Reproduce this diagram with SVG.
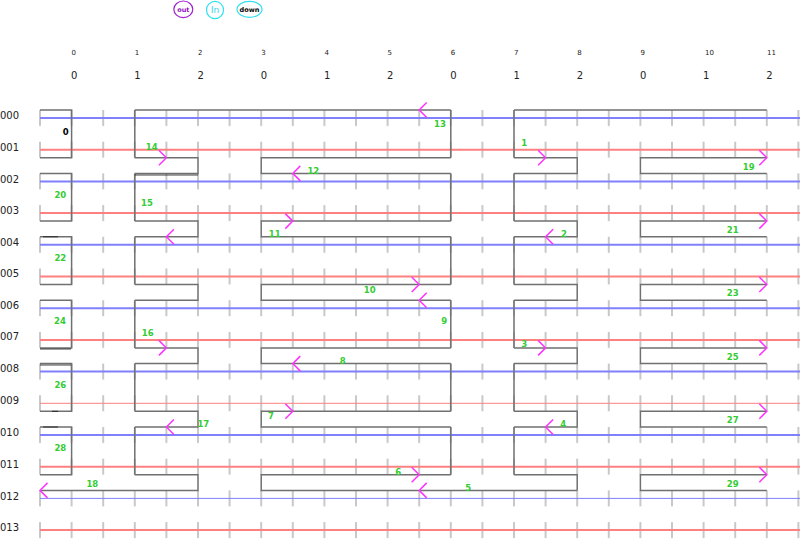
<svg xmlns="http://www.w3.org/2000/svg" width="800" height="539" viewBox="0 0 800 539">
<style>
.rl{font-family:"DejaVu Sans",sans-serif;font-size:10px;fill:#222}
.c1{font-family:"DejaVu Sans",sans-serif;font-size:7px;fill:#222}
.c2{font-family:"DejaVu Sans",sans-serif;font-size:10px;fill:#222}
.g{font-family:"DejaVu Sans",sans-serif;font-size:8.5px;font-weight:bold;fill:#33cc33;text-anchor:middle}
.blue{stroke:#8080ff;stroke-width:2;fill:none}
.red{stroke:#ff8080;stroke-width:2;fill:none}
.thin{stroke-width:1}
.box{stroke:#707070;stroke-width:1.5;fill:none}
.arr{stroke:#ff33ff;stroke-width:1.5;fill:none}
</style>
<defs>
<pattern id="tick" patternUnits="userSpaceOnUse" x="39" y="110" width="31.6" height="31.7">
<rect x="0" y="0" width="2" height="16" fill="#c8c8c8"/>
</pattern>
<path id="lt" d="M7.5,-7.5 L0,0 L7.5,7.5"/>
<path id="gt" d="M-7.5,-7.5 L0,0 L-7.5,7.5"/>
</defs>
<rect width="800" height="539" fill="#ffffff"/>
<g id="legend">
<g id="legend-out"><ellipse cx="183.3" cy="9.3" rx="9.5" ry="8.3" fill="none" stroke="#a020d0" stroke-width="1.2"/><text x="183.3" y="11.6" font-family="DejaVu Sans,sans-serif" font-size="6.5" font-weight="bold" fill="#9010c0" text-anchor="middle">out</text></g>
<g id="legend-in"><ellipse cx="215" cy="10" rx="8.5" ry="8.7" fill="none" stroke="#30e0f0" stroke-width="1.2"/><text x="215" y="13.3" font-family="DejaVu Sans,sans-serif" font-size="9" fill="#30d8f0" text-anchor="middle">In</text></g>
<g id="legend-down"><ellipse cx="249.5" cy="9.3" rx="12.5" ry="8" fill="none" stroke="#30e0f0" stroke-width="1.2"/><text x="249.5" y="11.6" font-family="DejaVu Sans,sans-serif" font-size="6.5" font-weight="bold" fill="#000" text-anchor="middle">down</text></g>
</g>
<g id="col-labels">
<text class="c1" x="71.6" y="54.5">0</text><text class="c1" x="134.8" y="54.5">1</text><text class="c1" x="198" y="54.5">2</text><text class="c1" x="261.2" y="54.5">3</text><text class="c1" x="324.4" y="54.5">4</text><text class="c1" x="387.6" y="54.5">5</text><text class="c1" x="450.8" y="54.5">6</text><text class="c1" x="514" y="54.5">7</text><text class="c1" x="577.2" y="54.5">8</text><text class="c1" x="640.4" y="54.5">9</text><text class="c1" x="705" y="54.5">10</text><text class="c1" x="767" y="54.5">11</text>
<text class="c2" x="71" y="78.5">0</text><text class="c2" x="134.3" y="78.5">1</text><text class="c2" x="197.5" y="78.5">2</text><text class="c2" x="260.7" y="78.5">0</text><text class="c2" x="323.9" y="78.5">1</text><text class="c2" x="387.1" y="78.5">2</text><text class="c2" x="450.3" y="78.5">0</text><text class="c2" x="513.5" y="78.5">1</text><text class="c2" x="576.7" y="78.5">2</text><text class="c2" x="639.9" y="78.5">0</text><text class="c2" x="703.1" y="78.5">1</text><text class="c2" x="766.3" y="78.5">2</text>
</g>
<g id="row-labels">
<text class="rl" x="0" y="119">000</text><text class="rl" x="0" y="150.5">001</text><text class="rl" x="0" y="182.5">002</text><text class="rl" x="0" y="214">003</text><text class="rl" x="0" y="245.5">004</text><text class="rl" x="0" y="277">005</text><text class="rl" x="0" y="308.5">006</text><text class="rl" x="0" y="340">007</text><text class="rl" x="0" y="372">008</text><text class="rl" x="0" y="404">009</text><text class="rl" x="0" y="436">010</text><text class="rl" x="0" y="467.5">011</text><text class="rl" x="0" y="499.5">012</text><text class="rl" x="0" y="531">013</text>
</g>
<g id="ticks"><rect x="39" y="110" width="761" height="429" fill="url(#tick)"/></g>
<g id="rows">
<path class="blue" d="M40,118H800"/>
<path class="red" d="M40,149.7H800"/>
<path class="blue" d="M40,181.4H800"/>
<path class="red" d="M40,213.1H800"/>
<path class="blue" d="M40,244.8H800"/>
<path class="red" d="M40,276.5H800"/>
<path class="blue" d="M40,308.2H800"/>
<path class="red" d="M40,339.9H800"/>
<path class="blue" d="M40,371.6H800"/>
<path class="red thin" d="M40,403.3H800"/>
<path class="blue" d="M40,435H800"/>
<path class="red" d="M40,466.7H800"/>
<path class="blue thin" d="M40,498.4H800"/>
<path class="red" d="M40,530.1H800"/>
</g>
<g id="structure">
<path class="box" d="M40,110H71.6V157.7H40 M40,173.4H71.6V221.1H40 M40,236.8H71.6V284.5H40 M40,300.2H71.6V347.9H40 M40,363.6H71.6V411.3H40 M40,427H71.6V474.7H40
M134.8,110H450.8 M514,110H766.8
M134.8,110V157.7 M450.8,110V157.7 M514,110V157.7
M134.8,173.4V221.1 M450.8,173.4V221.1 M514,173.4V221.1
M134.8,236.8V284.5 M450.8,236.8V284.5 M514,236.8V284.5
M134.8,300.2V347.9 M450.8,300.2V347.9 M514,300.2V347.9
M134.8,363.6V411.3 M450.8,363.6V411.3 M514,363.6V411.3
M134.8,427V474.7 M450.8,427V474.7 M514,427V474.7
M134.8,157.7H198V173.4H134.8 M450.8,157.7H261.2V173.4H450.8 M514,157.7H577.2V173.4H514 M766.8,157.7H640.4V173.4H766.8
M134.8,221.1H198V236.8H134.8 M450.8,221.1H261.2V236.8H450.8 M514,221.1H577.2V236.8H514 M766.8,221.1H640.4V236.8H766.8
M134.8,284.5H198V300.2H134.8 M450.8,284.5H261.2V300.2H450.8 M514,284.5H577.2V300.2H514 M766.8,284.5H640.4V300.2H766.8
M134.8,347.9H198V363.6H134.8 M450.8,347.9H261.2V363.6H450.8 M514,347.9H577.2V363.6H514 M766.8,347.9H640.4V363.6H766.8
M134.8,411.3H198V427H134.8 M450.8,411.3H261.2V427H450.8 M514,411.3H577.2V427H514 M766.8,411.3H640.4V427H766.8
M134.8,474.7H198V490.4H40 M450.8,474.7H261.2V490.4H577.2 M514,474.7H577.2V490.4 M766.8,474.7H640.4V490.4H766.8"/>
<path d="M134.8,175H198 M43,236.8H58 M40,349H71 M40,365H71 M52,411.3H58 M43,427H58" stroke="#111" stroke-width="0.8" fill="none"/>
</g>
<g id="connectors" class="arr">
<use href="#lt" x="419.2" y="110"/>
<use href="#gt" x="166.4" y="157.7"/>
<use href="#gt" x="545.6" y="157.7"/>
<use href="#lt" x="292.8" y="173.4"/>
<use href="#gt" x="766.8" y="157.7"/>
<use href="#gt" x="292.8" y="221.1"/>
<use href="#lt" x="166.4" y="236.8"/>
<use href="#lt" x="545.6" y="236.8"/>
<use href="#gt" x="766.8" y="221.1"/>
<use href="#gt" x="419.2" y="284.5"/>
<use href="#lt" x="419.2" y="300.2"/>
<use href="#gt" x="766.8" y="284.5"/>
<use href="#gt" x="166.4" y="347.9"/>
<use href="#gt" x="545.6" y="347.9"/>
<use href="#gt" x="766.8" y="347.9"/>
<use href="#lt" x="292.8" y="363.6"/>
<use href="#gt" x="292.8" y="411.3"/>
<use href="#lt" x="166.4" y="427"/>
<use href="#lt" x="545.6" y="427"/>
<use href="#gt" x="766.8" y="411.3"/>
<use href="#gt" x="419.2" y="474.7"/>
<use href="#lt" x="40" y="490.4"/>
<use href="#lt" x="419.2" y="490.4"/>
<use href="#gt" x="766.8" y="474.7"/>
</g>
<g id="labels">
<text x="65.7" y="134.5" font-family="DejaVu Sans,sans-serif" font-size="8.5" font-weight="bold" fill="#000" text-anchor="middle">0</text>
<g id="n1"><text class="g" x="524.3" y="146.3">1</text></g>
<g id="n2"><text class="g" x="564" y="237">2</text></g>
<g id="n3"><text class="g" x="524.3" y="347.3">3</text></g>
<g id="n4"><text class="g" x="563.3" y="427">4</text></g>
<g id="n5"><text class="g" x="468.3" y="490.7">5</text></g>
<g id="n6"><text class="g" x="398.3" y="474.7">6</text></g>
<g id="n7"><text class="g" x="271" y="418.7">7</text></g>
<g id="n8"><text class="g" x="342.7" y="364">8</text></g>
<g id="n9"><text class="g" x="444.3" y="324">9</text></g>
<g id="n10"><text class="g" x="369.7" y="292.7">10</text></g>
<g id="n11"><text class="g" x="274.7" y="237">11</text></g>
<g id="n12"><text class="g" x="313.3" y="173.7">12</text></g>
<g id="n13"><text class="g" x="440" y="127">13</text></g>
<g id="n14"><text class="g" x="151.7" y="150">14</text></g>
<g id="n15"><text class="g" x="147" y="205.7">15</text></g>
<g id="n16"><text class="g" x="147.7" y="336.3">16</text></g>
<g id="n17"><text class="g" x="203.3" y="426.7">17</text></g>
<g id="n18"><text class="g" x="92.3" y="486.7">18</text></g>
<g id="n19"><text class="g" x="748.7" y="170">19</text></g>
<g id="n20"><text class="g" x="60.3" y="198">20</text></g>
<g id="n21"><text class="g" x="732.7" y="233">21</text></g>
<g id="n22"><text class="g" x="60.3" y="260.7">22</text></g>
<g id="n23"><text class="g" x="732.7" y="296.3">23</text></g>
<g id="n24"><text class="g" x="60" y="324.3">24</text></g>
<g id="n25"><text class="g" x="732.7" y="360">25</text></g>
<g id="n26"><text class="g" x="60.3" y="387.5">26</text></g>
<g id="n27"><text class="g" x="732.7" y="423.3">27</text></g>
<g id="n28"><text class="g" x="60.3" y="451">28</text></g>
<g id="n29"><text class="g" x="732.7" y="486.7">29</text></g>
</g>
</svg>
